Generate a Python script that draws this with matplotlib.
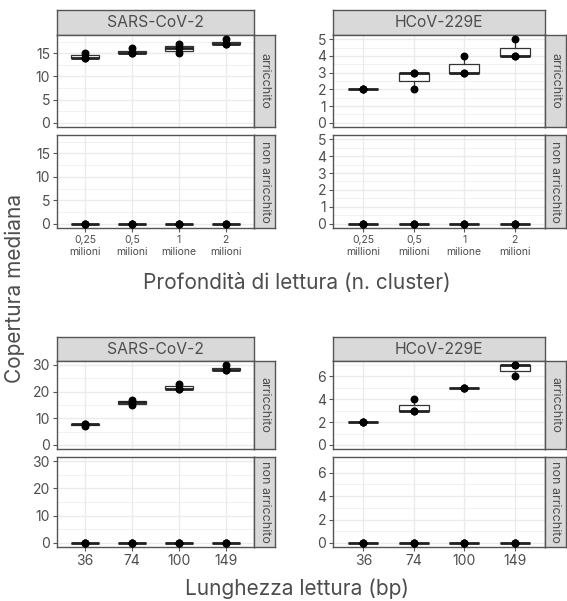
import numpy as np
import matplotlib
matplotlib.use("Agg")
import matplotlib.pyplot as plt

plt.rcParams['font.family'] = ['Inter', 'DejaVu Sans']

# data: 3 replicates per condition (median coverage)
depth_labels_sars = ['0,25\nmilioni', '0,5\nmilioni', '1\nmilione', '2\nmilioni']
depth_labels_hcov = ['0,25\nmillioni', '0,5\nmilioni', '1\nmilione', '2\nmilioni']
length_labels = ['36', '74', '100', '149']

sars_depth_enr = [[14, 14, 15], [15, 15, 16], [15, 16, 17], [17, 17, 18]]
hcov_depth_enr = [[2, 2, 2], [2, 3, 3], [3, 3, 4], [4, 4, 5]]
sars_len_enr = [[7, 8, 8], [15, 16, 17], [21, 21, 23], [28, 28, 30]]
hcov_len_enr = [[2, 2, 2], [3, 3, 4], [5, 5, 5], [6, 7, 7]]
not_enr = [[0, 0, 0], [0, 0, 0], [0, 0, 0], [0, 0, 0]]

W, H = 567, 601
fig = plt.figure(figsize=(W / 100, H / 100), dpi=100)

def box(x0, y0, x1, y1):
    return [x0 / W, 1 - y1 / H, (x1 - x0) / W, (y1 - y0) / H]

STRIP_FILL = '#D9D9D9'
BORDER = '#555555'
GRID = '#EBEBEB'
TEXT = '#4D4D4D'

def strip(rect, text, rot=0):
    ax = fig.add_axes(box(*rect))
    ax.set_facecolor(STRIP_FILL)
    ax.set_xticks([]); ax.set_yticks([])
    for s in ax.spines.values():
        s.set_color(BORDER); s.set_linewidth(1.0)
    ax.text(0.5, 0.5, text, transform=ax.transAxes, ha='center', va='center',
            rotation=rot, fontsize=11.3 if rot == 0 else 9, color=TEXT)

def panel(rect, data, ymax, yticks, xlabels=None):
    ax = fig.add_axes(box(*rect))
    ax.set_facecolor('white')
    pad = ymax * 0.05
    ax.set_ylim(-pad, ymax + pad)
    ax.set_xlim(0.4, 4.6)
    step = yticks[1] - yticks[0]
    minor = [t + step / 2 for t in yticks]
    for m in minor:
        ax.axhline(m, color=GRID, lw=0.5, zorder=0)
    for t in yticks:
        ax.axhline(t, color=GRID, lw=1.0, zorder=0)
    for x in range(1, 5):
        ax.axvline(x, color=GRID, lw=1.0, zorder=0)
    ax.boxplot(data, positions=[1, 2, 3, 4], widths=0.6, patch_artist=True,
               showfliers=False, showcaps=False,
               boxprops=dict(facecolor='white', edgecolor='#333333', linewidth=0.9),
               medianprops=dict(color='#222222', linewidth=2.0),
               whiskerprops=dict(color='#333333', linewidth=0.9), zorder=2)
    for i, vals in enumerate(data):
        ax.scatter([i + 1] * len(vals), vals, s=22, color='black', zorder=3)
    ax.set_yticks(yticks)
    ax.set_yticklabels([str(t) for t in yticks])
    ax.tick_params(axis='y', length=3, width=0.8, color=BORDER, labelsize=10,
                   labelcolor=TEXT, pad=2)
    ax.set_xticks([1, 2, 3, 4])
    if xlabels is None:
        ax.tick_params(axis='x', length=0, labelbottom=False)
    else:
        ax.set_xticklabels(xlabels)
        ax.tick_params(axis='x', length=3, width=0.8, color=BORDER,
                       labelsize=10 if '\n' not in xlabels[0] else 7.5,
                       labelcolor=TEXT, pad=2)
    for s in ax.spines.values():
        s.set_color(BORDER); s.set_linewidth(1.0)
    return ax

def block(x0, x1, ys, title, enr, ymax, yticks, xlabels):
    st, p1a, p1b, p2a, p2b = ys
    strip((x0, st, x1, p1a), title)
    panel((x0, p1a, x1, p1b), enr, ymax, yticks)
    panel((x0, p2a, x1, p2b), not_enr, ymax, yticks, xlabels)
    strip((x1, p1a, x1 + 21, p1b), 'arricchito', rot=-90)
    strip((x1, p2a, x1 + 21, p2b), 'non arricchito', rot=-90)

top_ys = (10, 35, 127, 135, 228)
bot_ys = (337, 361, 449, 457, 547)

block(57, 254, top_ys, 'SARS-CoV-2', sars_depth_enr, 18, [0, 5, 10, 15], depth_labels_sars)
block(333, 545, top_ys, 'HCoV-229E', hcov_depth_enr, 5, [0, 1, 2, 3, 4, 5], depth_labels_hcov)
block(57, 254, bot_ys, 'SARS-CoV-2', sars_len_enr, 30, [0, 10, 20, 30], length_labels)
block(333, 545, bot_ys, 'HCoV-229E', hcov_len_enr, 7, [0, 2, 4, 6], length_labels)

fig.text(297 / W, 1 - 283 / H, 'Profondità di lettura (n. cluster)', ha='center', va='center',
         fontsize=15, color=TEXT)
fig.text(297 / W, 1 - 589 / H, 'Lunghezza lettura (bp)', ha='center', va='center',
         fontsize=15, color=TEXT)
fig.text(15 / W, 1 - 288 / H, 'Copertura mediana', ha='center', va='center', rotation=90,
         fontsize=15, color=TEXT)

fig.savefig('out.png', dpi=100)
